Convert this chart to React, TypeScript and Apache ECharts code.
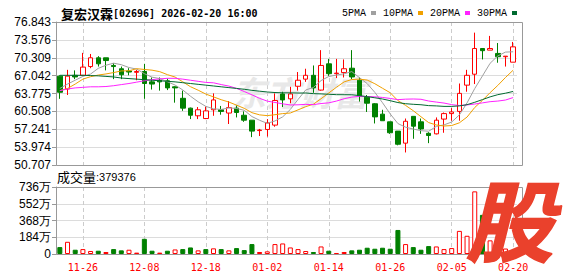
import React, { useEffect, useRef } from 'react';
import * as echarts from 'echarts';

const dates = ['11-21','11-24','11-25','11-26','11-27','11-28','12-01','12-02','12-03','12-04','12-05','12-08','12-09','12-10','12-11','12-12','12-15','12-16','12-17','12-18','12-19','12-22','12-23','12-24','12-29','12-30','12-31','01-02','01-05','01-06','01-07','01-08','01-09','01-12','01-13','01-14','01-15','01-16','01-19','01-20','01-21','01-22','01-23','01-26','01-27','01-28','01-29','01-30','02-02','02-03','02-04','02-05','02-06','02-09','02-10','02-11','02-12','02-13','02-16','02-20'];
const labelDates = ['11-26','12-08','12-18','01-02','01-14','01-26','02-05','02-20'];

const openP = [66.95,64.6,67.1,67.1,68.7,70.3,70.3,68.9,68.3,67.9,67.65,67.8,65.9,66.2,66.1,65.0,62.9,61.1,59.7,59.2,60.8,60.8,60.2,61.1,59.8,58.9,57.0,57.2,58.0,63.7,62.8,65.1,66.4,67.1,64.4,69.2,67.4,67.6,68.4,66.2,63.1,61.9,60.0,58.6,56.9,54.7,59.6,58.6,56.5,56.4,59.1,60.1,60.5,65.3,67.3,72.0,71.7,71.1,70.5,69.5];
const closeP = [64.0,66.95,66.8,68.6,70.3,69.2,69.8,68.7,67.2,67.7,67.8,65.6,65.5,65.9,64.8,64.8,61.1,59.8,60.8,60.6,62.6,60.5,61.2,60.3,58.9,56.9,57.1,58.4,62.5,62.6,63.7,66.2,67.1,64.8,68.9,67.4,67.5,68.3,66.8,63.3,62.0,59.5,58.8,56.6,54.5,58.7,57.8,57.3,56.1,58.9,60.1,60.4,63.8,67.1,72.0,71.6,72.0,70.5,70.6,72.3];
const lowP = [62.8,63.5,66.4,67.0,68.4,68.7,68.0,66.4,66.4,67.1,66.2,62.8,64.5,64.3,64.4,62.1,60.6,59.1,59.1,59.1,59.7,59.9,58.2,59.4,58.6,55.8,56.0,55.9,57.7,61.3,62.0,64.3,65.9,63.9,64.3,67.0,66.6,66.7,66.4,62.3,60.4,58.3,58.8,56.4,54.3,53.0,55.5,56.4,54.7,56.3,56.6,58.8,58.8,64.1,65.5,70.0,71.7,69.4,68.7,69.5];
const highP = [67.1,68.1,68.0,71.2,71.0,70.6,70.3,69.3,68.7,68.4,68.1,69.2,66.7,66.7,66.5,65.1,64.3,61.2,61.3,61.4,63.8,61.5,62.4,61.6,60.5,58.9,57.3,59.1,63.8,64.1,65.0,67.7,68.3,68.9,71.7,70.1,70.1,70.0,71.7,66.7,63.5,62.0,60.8,58.6,56.9,59.2,59.6,59.2,56.7,59.4,60.3,61.1,65.6,68.1,74.9,72.0,74.3,73.0,70.6,73.2];

const ma5 = [64.7,65.5,66.2,66.9,67.33,68.37,68.94,69.32,69.04,68.52,68.24,67.4,66.76,66.5,65.92,65.32,64.42,63.28,62.26,61.42,60.98,60.86,61.14,61.04,60.7,59.56,58.88,58.32,58.76,59.5,60.86,62.68,64.42,64.88,66.14,66.88,67.14,67.38,67.78,66.66,65.58,63.98,62.08,60.04,58.28,57.62,57.28,56.98,56.88,57.76,58.04,58.56,59.86,62.06,64.68,66.98,69.3,70.64,71.34,71.4];
const ma10 = [64.3,64.7,65.5,66.4,66.85,67.15,67.35,67.6,67.9,67.93,68.31,68.17,68.04,67.77,67.22,66.78,65.91,65.02,64.38,63.67,63.15,62.64,62.21,61.65,61.06,60.27,59.87,59.73,59.9,60.1,60.21,60.78,61.37,61.82,62.82,63.87,64.91,65.9,66.33,66.4,66.23,65.56,64.73,63.91,62.47,61.6,60.63,59.53,58.46,58.02,57.83,57.92,58.42,59.47,61.22,62.51,63.93,65.25,66.7,68.04];
const ma20 = [64.3,64.6,64.8,64.9,65.0,65.0,65.05,65.2,65.4,65.6,65.85,66.1,66.3,66.45,66.55,66.55,66.4,66.2,66.0,65.8,65.73,65.41,65.13,64.71,64.14,63.53,62.89,62.38,62.14,61.89,61.68,61.71,61.79,61.74,61.94,62.07,62.39,62.82,63.12,63.25,63.22,63.17,63.05,62.87,62.65,62.74,62.77,62.72,62.4,62.21,62.03,61.74,61.58,61.69,61.85,62.06,62.28,62.39,62.58,63.03];
const ma30 = [67.1,67.1,67.1,67.1,67.05,67.0,66.9,66.8,66.6,66.5,66.4,66.3,66.2,66.1,66.0,65.9,65.75,65.6,65.45,65.3,65.15,65.0,64.85,64.7,64.55,64.35,64.2,64.05,63.95,63.9,63.89,63.86,63.87,63.75,63.7,63.64,63.56,63.55,63.54,63.39,63.2,62.99,62.77,62.46,62.12,61.91,61.8,61.72,61.56,61.51,61.42,61.42,61.51,61.73,62.17,62.66,63.16,63.56,63.83,64.15];

const volumes = [760000,1340000,470000,540000,330000,360000,220000,540000,400000,470000,150000,1670000,360000,150000,360000,500000,540000,720000,400000,540000,620000,540000,400000,650000,430000,1090000,220000,290000,1090000,1160000,720000,540000,330000,220000,830000,360000,110000,220000,400000,470000,690000,580000,690000,580000,2640000,1090000,760000,470000,870000,830000,540000,650000,2540000,2000000,6880000,4300000,1500000,1000000,600000,379376];
// u = rising (hollow red), f = rising (filled red), d = falling (green)
const volumeKinds = ['d','u','d','u','u','d','u','d','d','u','f','d','d','f','d','u','d','d','u','d','u','d','u','d','d','d','f','u','u','u','u','u','u','d','u','d','f','u','d','d','d','d','d','d','d','u','d','d','d','u','u','u','u','u','u','d','u','d','u','u'];

const priceTicks = [50.707,53.974,57.241,60.508,63.775,67.042,70.309,73.576,76.843];
const volumeMax = 7360000;
const volumeStep = 1840000;

const maNames = ['5PMA','10PMA','20PMA','30PMA'];
const maColors = ['#a0a0a0','#f0a000','#ff22ff','#006a30'];

const RED = '#ff0000';
const GREEN = '#008000';

export default function App() {
  const ref = useRef<HTMLDivElement>(null);
  useEffect(() => {
    const chart = echarts.init(ref.current!, null, { renderer: 'svg' });
    const candleData = dates.map((_, i) => [openP[i], closeP[i], lowP[i], highP[i]]);
    const maData = [ma5, ma10, ma20, ma30];
    const volData = volumes.map((v, i) => {
      const k = volumeKinds[i];
      const itemStyle = k === 'u'
        ? { color: '#ffffff', borderColor: RED, borderWidth: 1 }
        : k === 'f'
          ? { color: RED, borderColor: RED, borderWidth: 1 }
          : { color: GREEN, borderColor: GREEN, borderWidth: 1 };
      return { value: v, itemStyle };
    });
    const isLabelDate = (_i: number, v: string) => labelDates.includes(v);
    const axisFont = { fontFamily: '"Liberation Sans", Arial, sans-serif', fontSize: 12, color: '#000' };

    const option: any = {
      animation: false,
      backgroundColor: '#ffffff',
      title: {
        left: 56, top: 2,
        text: '{a|复宏汉霖}{b|[02696] 2026-02-20 16:00}',
        textStyle: {
          rich: {
            a: { fontFamily: '"Noto Sans CJK SC"', fontSize: 13, color: '#000' },
            b: { fontFamily: '"DejaVu Sans Mono", monospace', fontSize: 10, color: '#000' },
          },
        },
      },
      legend: {
        left: 337, top: 3,
        align: 'right',
        icon: 'rect',
        itemWidth: 5, itemHeight: 4,
        itemGap: 7,
        data: maNames,
        textStyle: { fontFamily: '"Liberation Mono", monospace', fontSize: 10, color: '#000' },
      },
      grid: [
        { left: 56, top: 22, width: 461, height: 143 },
        { left: 56, top: 187, width: 461, height: 67 },
      ],
      xAxis: [
        {
          type: 'category', gridIndex: 0, data: dates, boundaryGap: true,
          axisLine: { show: false }, axisTick: { show: false }, axisLabel: { show: false },
          splitLine: { show: true, interval: isLabelDate, alignWithLabel: true, lineStyle: { color: '#cccccc', type: [4, 3], width: 1 } },
        },
        {
          type: 'category', gridIndex: 1, data: dates, boundaryGap: true,
          axisLine: { show: false }, axisTick: { show: false },
          axisLabel: { show: true, interval: isLabelDate, color: RED, fontFamily: '"DejaVu Sans Mono", monospace', fontSize: 10, margin: 8 },
          splitLine: { show: true, interval: isLabelDate, alignWithLabel: true, lineStyle: { color: '#cccccc', type: [4, 3], width: 1 } },
        },
      ],
      yAxis: [
        {
          type: 'value', gridIndex: 0, min: 50.707, max: 76.843, scale: true,
          axisLine: { show: true, lineStyle: { color: '#999' } },
          axisTick: { show: true, length: 4, customValues: priceTicks, lineStyle: { color: '#999' } },
          axisLabel: { ...axisFont, customValues: priceTicks, margin: 5, formatter: (v: number) => v.toFixed(3) },
          splitLine: { show: true, lineStyle: { color: '#dcdcdc', width: 1 } },
        },
        {
          type: 'value', gridIndex: 1, min: 0, max: volumeMax, interval: volumeStep,
          axisLine: { show: true, lineStyle: { color: '#999' } },
          axisTick: { show: true, length: 4, lineStyle: { color: '#999' } },
          axisLabel: { ...axisFont, margin: 5, formatter: (v: number) => (v === 0 ? '0' : `${Math.round(v / 10000)}万`) },
          splitLine: { show: true, lineStyle: { color: '#dcdcdc', width: 1 } },
        },
      ],
      graphic: [
        {
          type: 'text', left: 232, top: 74, z: 1, silent: true,
          style: { text: '东方财富', fontFamily: '"Noto Sans CJK SC"', fontSize: 34, fontWeight: 'bold', fontStyle: 'italic', fill: '#e8e8e8' },
        },
        {
          type: 'rect', z: 50, silent: true,
          shape: { x: 56.5, y: 22.5, width: 466, height: 143 },
          style: { fill: 'none', stroke: '#999', lineWidth: 1 },
        },
        {
          type: 'rect', z: 50, silent: true,
          shape: { x: 56.5, y: 187.5, width: 466, height: 67 },
          style: { fill: 'none', stroke: '#999', lineWidth: 1 },
        },
        {
          type: 'text', left: 57, top: 170, z: 60, silent: true,
          style: {
            text: '{a|成交量}{b|:379376}',
            rich: {
              a: { fontFamily: '"Noto Sans CJK SC"', fontSize: 13, fill: '#000' },
              b: { fontFamily: '"Liberation Sans", Arial', fontSize: 11, fill: '#000' },
            },
          },
        },
        {
          type: 'text', left: 465, top: 172, z: 100, silent: true,
          style: {
            text: '股', fontFamily: '"Noto Sans CJK SC"', fontSize: 88, lineHeight: 78,
            fontWeight: 'bold', fontStyle: 'italic', fill: '#ea412c', stroke: '#ea412c', lineWidth: 1.5,
          },
        },
      ],
      series: [
        {
          type: 'candlestick', name: 'K', xAxisIndex: 0, yAxisIndex: 0, data: candleData, barWidth: 5,
          itemStyle: { color: '#ffffff', color0: GREEN, borderColor: RED, borderColor0: GREEN, borderWidth: 1 },
        },
        ...maNames.map((n, k) => ({
          type: 'line', name: n, xAxisIndex: 0, yAxisIndex: 0, data: maData[k],
          showSymbol: false, symbol: 'none', smooth: false,
          lineStyle: { width: 1, color: maColors[k] }, itemStyle: { color: maColors[k] },
        })),
        {
          type: 'bar', name: 'VOL', xAxisIndex: 1, yAxisIndex: 1, data: volData, barWidth: 5,
        },
      ],
    };
    chart.setOption(option);
    return () => chart.dispose();
  }, []);
  return <div ref={ref} style={{ position: 'fixed', left: 0, top: 0, width: 578, height: 276 }} />;
}
